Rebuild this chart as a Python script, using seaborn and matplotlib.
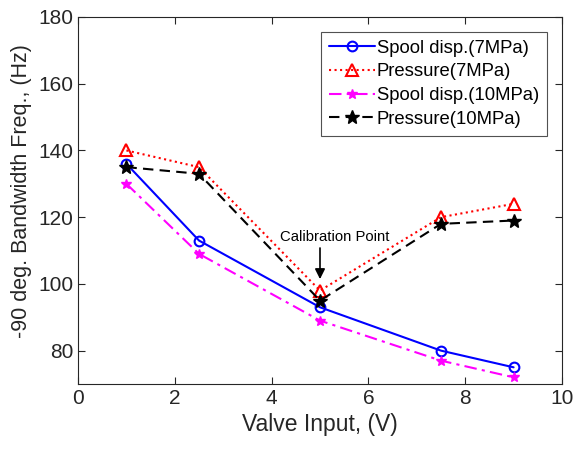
import matplotlib
matplotlib.use("Agg")
import matplotlib.pyplot as plt
import seaborn as sns
import pandas as pd

valve_input = [1, 2.5, 5, 7.5, 9]
spool_7 = [136, 113, 93, 80, 75]
pressure_7 = [140, 135, 98, 120, 124]
spool_10 = [130, 109, 89, 77, 72]
pressure_10 = [135, 133, 95, 118, 119]
labels = ["Spool disp.(7MPa)", "Pressure(7MPa)", "Spool disp.(10MPa)", "Pressure(10MPa)"]

sns.set_style("ticks")
plt.rcParams['font.family'] = ['Liberation Sans', 'DejaVu Sans']
dark = "#262626"

fig = plt.figure(figsize=(5.74, 4.5), dpi=100)
ax = fig.add_axes([78/574, (450-384)/450, (562-78)/574, (384-17)/450])

series = [spool_7, pressure_7, spool_10, pressure_10]
styles = [
    dict(color="#0000ff", linestyle="-", marker="o", markersize=7, markerfacecolor="none",
         markeredgecolor="#0000ff", markeredgewidth=1.5),
    dict(color="#ff0000", linestyle=":", marker="^", markersize=8, markerfacecolor="none",
         markeredgecolor="#ff0000", markeredgewidth=1.5),
    dict(color="#ff00ff", linestyle=(0, (6, 2.5, 1.5, 2.5)), marker="*", markersize=7,
         markerfacecolor="#ff00ff", markeredgecolor="#ff00ff", markeredgewidth=1),
    dict(color="black", linestyle=(0, (5, 3)), marker="*", markersize=10,
         markerfacecolor="black", markeredgecolor="black", markeredgewidth=1),
]
for vals, lab, st in zip(series, labels, styles):
    df = pd.DataFrame({"x": valve_input, "y": vals})
    sns.lineplot(data=df, x="x", y="y", ax=ax, label=lab, linewidth=1.5, **st)

ax.set_xlim(0, 10)
ax.set_ylim(70, 180)
ax.set_xticks([0, 2, 4, 6, 8, 10])
ax.set_yticks([80, 100, 120, 140, 160, 180])
ax.tick_params(direction="in", top=True, right=True, labelsize=15, length=5,
               colors=dark, labelcolor=dark)
for s in ax.spines.values():
    s.set_visible(True)
    s.set_linewidth(0.8)
    s.set_color(dark)
ax.set_xlabel("Valve Input, (V)", fontsize=16.5, color=dark)
ax.set_ylabel("-90 deg. Bandwidth Freq., (Hz)", fontsize=15.5, color=dark)
ax.yaxis.label.set_y(0.525)

ax.annotate("", xy=(5, 100.6), xytext=(5, 111.6),
            arrowprops=dict(arrowstyle="-|>", color="black", lw=1.2, mutation_scale=15))
ax.text(5.3, 114.0, "Calibration Point", ha="center", va="center", fontsize=10.7, color="black")

leg = ax.legend(loc="upper right", bbox_to_anchor=(0.969, 0.959), borderaxespad=0,
                fontsize=13.3, frameon=True, fancybox=False, edgecolor=dark,
                handlelength=2.5, borderpad=0.42, labelspacing=0.36, handletextpad=0.1)
leg.get_frame().set_linewidth(0.8)
for t in leg.get_texts():
    t.set_color("black")

fig.savefig("out.png", dpi=100)
